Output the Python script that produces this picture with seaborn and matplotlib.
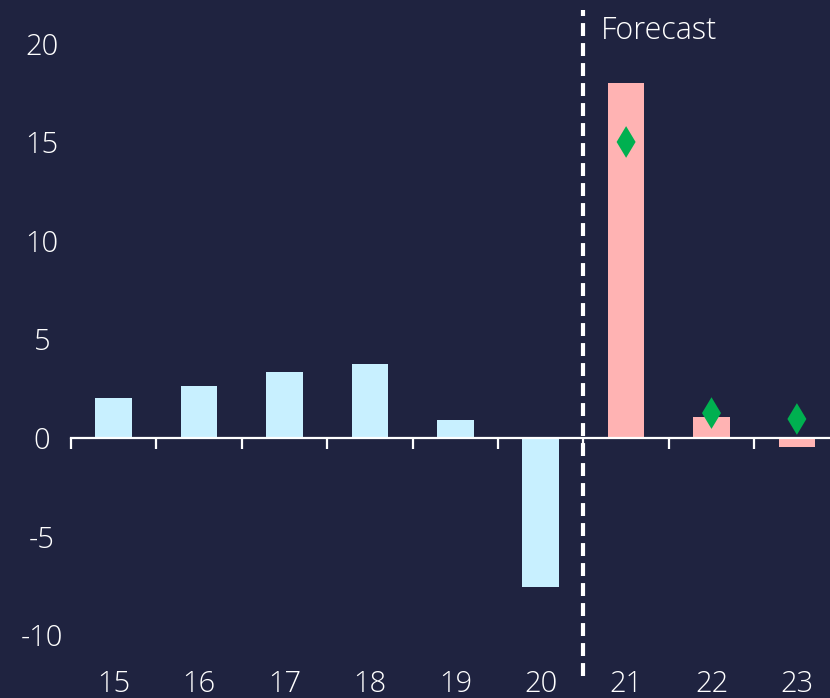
import matplotlib
matplotlib.use("Agg")
import matplotlib.pyplot as plt
import matplotlib.transforms as mtransforms
import seaborn as sns
import pandas as pd

# data
years = ["15", "16", "17", "18", "19", "20", "21", "22", "23"]
values = [2.0, 2.6, 3.35, 3.75, 0.9, -7.55, 18.0, 1.05, -0.45]
period = ["Actual"] * 6 + ["Forecast"] * 3
diamond_years = ["21", "22", "23"]
diamond_values = [15.0, 1.25, 0.95]
yticks = [-10, -5, 0, 5, 10, 15, 20]

bg = "#1f2340"
palette = {"Actual": "#c8f0ff", "Forecast": "#ffb3b3"}

sns.set_style("dark")
plt.rcParams["font.family"] = ["Open Sans", "DejaVu Sans"]

df = pd.DataFrame({"year": years, "value": values, "period": period})

fig = plt.figure(figsize=(8.3, 6.98), dpi=100, facecolor=bg)
# axes run a little past the right edge, as in the reference (cropped)
ax = fig.add_axes([71 / 830, 0, 768.6 / 830, 1])
ax.set_facecolor(bg)

sns.barplot(data=df, x="year", y="value", hue="period", palette=palette,
            dodge=False, width=0.43, legend=False, ax=ax, saturation=1,
            linewidth=0)

pos = [years.index(y) for y in diamond_years]
sns.scatterplot(x=pos, y=diamond_values, marker="d", s=260, color="#00b050",
                edgecolor="none", ax=ax, zorder=5)

ax.set_xlim(-0.5, 8.5)
ax.set_ylim(-13.2, 22.2)
ax.grid(False)

# zero axis line with tick marks at category boundaries
for s in ["top", "right", "left"]:
    ax.spines[s].set_visible(False)
ax.spines["bottom"].set_position(("data", 0))
ax.spines["bottom"].set_color("white")
ax.spines["bottom"].set_linewidth(1.6)
ax.set_xticks([i - 0.5 for i in range(len(years) + 1)])
ax.set_xticklabels([])
ax.tick_params(axis="x", bottom=True, colors="white", length=8, width=1.6,
               direction="out")

ax.set_yticks(yticks)
ax.set_yticklabels([str(t) for t in yticks], color="white", fontsize=21,
                   ha="center", fontweight="light")
ax.tick_params(axis="y", left=False, length=0, pad=21)
ax.set_xlabel("")
ax.set_ylabel("")

# category labels at the bottom of the chart
trans = mtransforms.blended_transform_factory(ax.transData, ax.transAxes)
for i, y in enumerate(years):
    ax.text(i, 0.02, y, transform=trans, ha="center", va="center",
            color="white", fontsize=21, fontweight="light")

# forecast divider
ax.vlines(5.5, -12.1, 21.7, color="white", linewidth=3,
          linestyles=(0, (3.1, 1.7)))
ax.text(5.71, 20.65, "Forecast", color="white", fontsize=22, va="center",
        ha="left", fontweight="light")

fig.savefig("out.png", dpi=100, facecolor=bg)
